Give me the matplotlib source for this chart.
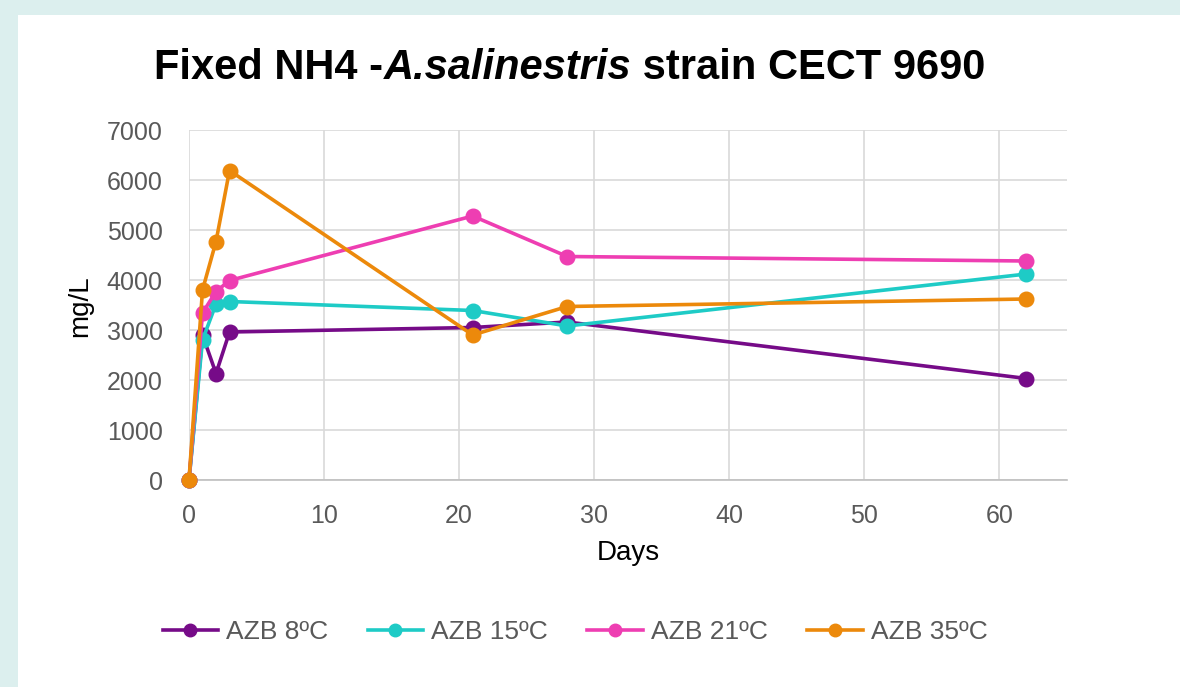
import matplotlib
matplotlib.use("Agg")
import matplotlib.pyplot as plt
from matplotlib.patches import Rectangle
from matplotlib.lines import Line2D
from matplotlib.transforms import offset_copy

plt.rcParams['font.family'] = ['Liberation Sans', 'DejaVu Sans']

days = [0, 1, 2, 3, 21, 28, 62]
series_names = ["AZB 8ºC", "AZB 15ºC", "AZB 21ºC", "AZB 35ºC"]
azb_8 = [0, 2900, 2130, 2960, 3050, 3160, 2030]
azb_15 = [0, 2800, 3520, 3570, 3390, 3080, 4120]
azb_21 = [0, 3340, 3770, 3990, 5280, 4470, 4380]
azb_35 = [0, 3800, 4770, 6190, 2900, 3470, 3620]
colors = ["#760b88", "#1ecbc6", "#ee3eb2", "#ec890b"]
x_ticks = [0, 10, 20, 30, 40, 50, 60]
y_ticks = [0, 1000, 2000, 3000, 4000, 5000, 6000, 7000]
title_parts = [("Fixed NH4 -", "normal"), ("A.salinestris", "italic"), (" strain CECT 9690", "normal")]

W, H = 1180, 687
fig = plt.figure(figsize=(W / 100, H / 100), dpi=100)
fig.patch.set_facecolor("#dcefee")
fig.add_artist(Rectangle((18 / W, 0), 1 - 18 / W, 1 - 15 / H, transform=fig.transFigure,
                         facecolor="white", edgecolor="none", zorder=0))

ax = fig.add_axes([189 / W, (H - 480) / H, (1067 - 189) / W, (480 - 130) / H])
ax.set_facecolor("none")
for vals, c in zip([azb_8, azb_15, azb_21, azb_35], colors):
    ax.plot(days, vals, color=c, lw=2.6, marker="o", markersize=10.5, clip_on=False, zorder=3)

ax.set_xlim(0, 65)
ax.set_ylim(0, 7000)
ax.set_xticks(x_ticks)
ax.set_yticks(y_ticks)
ax.grid(True, color="#d9d9d9", lw=1.2)
ax.set_axisbelow(True)
for s in ["top", "right", "left"]:
    ax.spines[s].set_visible(False)
ax.spines["bottom"].set_color("#bfbfbf")
ax.spines["bottom"].set_linewidth(1.2)
ax.tick_params(axis="both", length=0, labelsize=18, labelcolor="#595959")
ax.tick_params(axis="x", pad=17)
ax.tick_params(axis="y", pad=19)

ax.set_xlabel("Days", fontsize=20, color="black")
ax.set_ylabel("mg/L", fontsize=20, color="black")
ax.xaxis.set_label_coords(628 / W, 1 - 553 / H, transform=fig.transFigure)
ax.yaxis.set_label_coords(80 / W, 1 - 306 / H, transform=fig.transFigure)
ax.xaxis.label.set_va("center")
ax.yaxis.label.set_va("center")

# Title built from pieces (regular bold + bold italic)
renderer = fig.canvas.get_renderer()
texts = []
x0 = 0
for s, style in title_parts:
    t = fig.text(0, 1 - 68 / H, s, ha="left", va="center", fontsize=30,
                 fontweight="bold", fontstyle=style, color="black")
    texts.append(t)
widths = [t.get_window_extent(renderer).width for t in texts]
total = sum(widths)
start = 570 - total / 2
for t, w in zip(texts, widths):
    t.set_x(start / W)
    start += w

handles = [Line2D([0], [0], color=c, lw=2.6, marker="o", markersize=9) for c in colors]
leg = fig.legend(handles, series_names, loc="center", bbox_to_anchor=(575 / W, 1 - 632 / H),
                 ncol=4, frameon=False, fontsize=19, handlelength=2.1, columnspacing=1.5,
                 handletextpad=0.3)
for t in leg.get_texts():
    t.set_color("#595959")

fig.savefig("out.png", dpi=100, facecolor=fig.get_facecolor())
